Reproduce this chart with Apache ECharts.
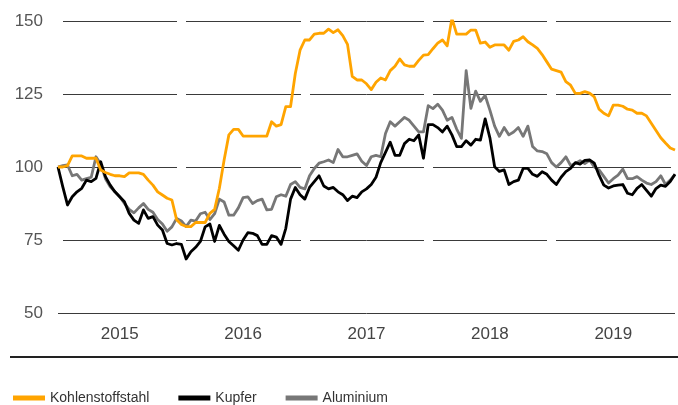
<!DOCTYPE html>
<html>
<head>
<meta charset="utf-8">
<title>Metallpreise</title>
<script src="https://cdn.jsdelivr.net/npm/echarts@6/dist/echarts.min.js"></script>
<style>
	html, body { margin: 0; padding: 0; background: #fff; }
	#chart { width: 678px; height: 405px; }
</style>
</head>
<body>
<div id="chart"></div>
<script>
// Index, Januar 2015 = 100, Werte alle zwei Wochen (26 je Jahr)
var startYear = 2015;
var pointsPerYear = 26;
var years = ['2015', '2016', '2017', '2018', '2019'];
var yTicks = [50, 75, 100, 125, 150];

var kohlenstoffstahl = [
	100, 100, 100.5, 103.8, 103.8, 103.8, 103, 103, 103, 99,
	98.1, 97.5, 97, 97, 96.7, 98, 98, 98, 97.5, 95.5,
	93.8, 91.5, 90.4, 89.3, 88.7, 81.9, 80.3, 79.6, 79.6, 81,
	81, 81, 84.1, 85.5, 92.7, 102.4, 111, 112.9, 112.9, 110.6,
	110.6, 110.6, 110.6, 110.6, 110.6, 115.5, 114, 114.5, 120.7, 120.7,
	132, 140, 143.5, 143.5, 145.5, 145.8, 145.8, 147.2, 146, 147,
	145, 142, 131, 129.8, 129.8, 128.5, 126.5, 129, 130.5, 129.8,
	133, 134.5, 137, 135, 134.5, 134.5, 136.5, 138.3, 138.5, 140.5,
	142.4, 143.5, 141.5, 150.9, 145.5, 145.5, 145.5, 146.9, 146.9, 142.4,
	142.8, 141, 141.8, 141.8, 141.8, 140, 143, 143.5, 144.6, 142.9,
	141.8, 140.6, 138.5, 136, 133.5, 133, 132.5, 129.2, 128, 125.2,
	125.2, 125.8, 125.3, 124, 119.8, 118.4, 117.5, 121.2, 121.2, 120.8,
	119.8, 119.5, 118.4, 118.4, 117.5, 115, 112.5, 110, 108.2, 106.5, 105.8
];
var kupfer = [
	100, 93.3, 87, 89.8, 91.5, 92.7, 95.5, 95, 96.1, 101.8,
	96.7, 93.8, 91.5, 89.8, 88.1, 84.1, 81.8, 80.7, 85.3, 82.4,
	83, 80.1, 78.4, 73.8, 73.3, 73.8, 73.5, 68.5, 71, 72.5,
	74.5, 79.5, 80.5, 74.5, 80, 77, 74.5, 73, 71.5, 75,
	77.5, 77.3, 76.5, 73.5, 73.5, 76.5, 76, 73.5, 79, 89,
	93, 90.5, 89, 93, 95, 97, 93.5, 92.5, 93, 91.5,
	90.5, 88.5, 90, 89.5, 91.5, 92.5, 94, 96.5, 101.5, 105,
	108.5, 104, 104, 108, 109.5, 109, 111, 103, 114.5, 114.5,
	113.5, 112, 114, 111, 107, 107, 109, 107.5, 109.5, 109.2,
	116.5, 110, 100.1, 98.5, 99, 94, 95, 95.5, 99.5, 99.5,
	97.5, 96.8, 98.4, 97.5, 95.5, 94, 96.5, 98.4, 99.5, 101.5,
	101, 102.3, 102.4, 101.3, 97.2, 93.8, 92.8, 93.5, 93.8, 94,
	91, 90.5, 92.7, 94, 92, 90, 92.6, 93.8, 93.4, 95, 97.5
];
var aluminium = [
	100, 100.5, 100.7, 97, 97.5, 95.5, 96, 96.5, 103.5, 101,
	96, 93.2, 91.5, 89.8, 87.5, 85.5, 84.3, 86, 87.5, 85.5,
	84.5, 82, 80.5, 78, 79.5, 82.4, 81.5, 79.6, 81.8, 81.5,
	84, 84.5, 82, 84, 89, 88, 83.5, 83.5, 86, 89.5,
	89.8, 87.5, 88.5, 89, 85.3, 85.5, 89.8, 90.5, 90, 94,
	95, 93, 92.5, 97, 99.5, 101.3, 101.8, 102.4, 101.5, 106,
	103.5, 103.5, 104, 104.5, 102, 100.5, 103.5, 104, 103.5, 111.5,
	115.5, 114, 115.5, 117, 116, 114, 112, 112, 121, 120,
	121.5, 119.5, 116, 117, 113, 109.8, 133, 120.1, 126, 122.5,
	124.5, 119.5, 114, 110.5, 113.5, 111, 112, 113.5, 110.5, 114,
	107, 105.5, 105.3, 104.5, 101.5, 100, 101.5, 103.5, 100.5, 101.2,
	102.2, 101.2, 102.3, 100, 99, 96.8, 94.5, 96, 97.2, 99.3,
	96, 96, 96.7, 95.5, 94.5, 94, 95, 97, 94, 95.5, 97.5
];

var colors = {
	stahl: '#ffa400',
	kupfer: '#000000',
	alu: '#777777'
};

// Werte mit Zeitpunkt (Jahr als Dezimalzahl) verbinden
function toPoints(values) {
	var out = [];
	for (var i = 0; i < values.length; i++) {
		out.push([startYear + i / pointsPerYear, values[i]]);
	}
	return out;
}

function lineSeries(name, values, color, z) {
	return {
		name: name,
		type: 'line',
		xAxisIndex: 0,
		data: toPoints(values),
		showSymbol: false,
		symbol: 'none',
		z: z,
		lineStyle: { color: color, width: 2.8, join: 'round' },
		itemStyle: { color: color },
		animation: false
	};
}

var myChart = echarts.init(document.getElementById('chart'));
var option = {
	backgroundColor: '#fff',
	animation: false,
	grid: { left: 58, right: 0, top: 21, bottom: 92 },
	legend: {
		data: ['Kohlenstoffstahl', 'Kupfer', 'Aluminium'],
		left: 8,
		top: 386,
		icon: 'rect',
		itemWidth: 32,
		itemHeight: 5,
		itemGap: 29,
		textStyle: { fontFamily: 'Liberation Sans, sans-serif', fontSize: 14, color: '#333' }
	},
	xAxis: [{
		type: 'value',
		min: startYear,
		max: startYear + years.length,
		interval: 0.5,
		axisLine: { show: false },
		axisTick: { show: false },
		splitLine: { show: false },
		axisLabel: {
			margin: 13,
			fontFamily: 'Liberation Sans, sans-serif',
			fontSize: 17,
			color: '#444',
			formatter: function(v) {
				var idx = Math.floor(v - startYear);
				if (Math.abs(v - Math.floor(v) - 0.5) < 0.01 && years[idx]) {
					return years[idx];
				}
				return '';
			}
		}
	}, {
		// nur fuer die weissen Luecken zwischen den Jahren
		type: 'value',
		position: 'bottom',
		min: startYear,
		max: startYear + years.length,
		interval: 1,
		z: 1,
		axisLine: { show: false },
		axisTick: { show: false },
		axisLabel: { show: false },
		splitLine: { show: true, lineStyle: { color: '#ffffff', width: 9 } }
	}],
	yAxis: {
		type: 'value',
		min: yTicks[0],
		max: yTicks[yTicks.length - 1],
		interval: 25,
		z: 0,
		axisLine: { show: false },
		axisTick: { show: false },
		splitLine: { lineStyle: { color: '#3a3a3a', width: 1 } },
		axisLabel: {
			margin: 15,
			fontFamily: 'Liberation Sans, sans-serif',
			fontSize: 17,
			color: '#555'
		}
	},
	graphic: [{
		type: 'rect',
		shape: { x: 10, y: 356, width: 668, height: 2 },
		style: { fill: '#222' },
		silent: true
	}],
	series: [
		lineSeries('Aluminium', aluminium, colors.alu, 2),
		lineSeries('Kupfer', kupfer, colors.kupfer, 3),
		lineSeries('Kohlenstoffstahl', kohlenstoffstahl, colors.stahl, 4)
	]
};
myChart.setOption(option);
</script>
</body>
</html>
